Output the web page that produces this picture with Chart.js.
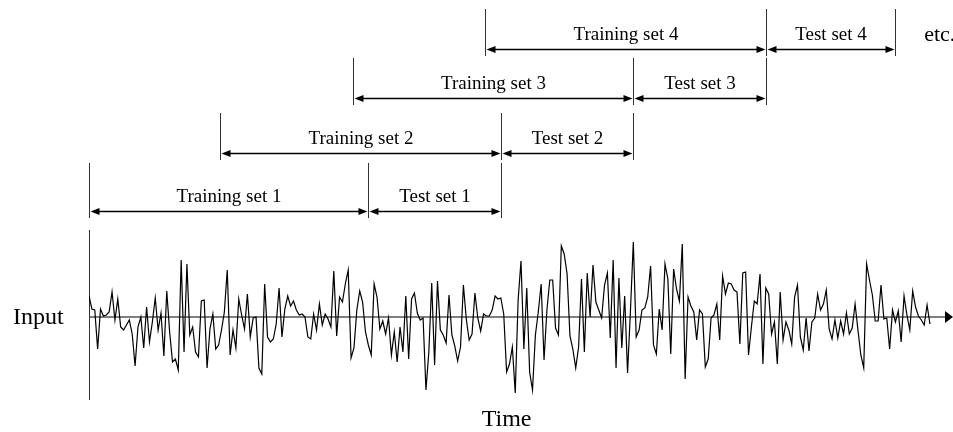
<!DOCTYPE html>
<html>
<head>
<meta charset="utf-8">
<script src="https://cdn.jsdelivr.net/npm/chart.js@4.4.1/dist/chart.umd.min.js"></script>
<style>
  html, body { margin: 0; padding: 0; background: #fff; }
  #wrap { width: 953px; height: 432px; }
</style>
</head>
<body>
<div id="wrap"><canvas id="cvChart" width="953" height="432"></canvas></div>
<script>
// ── Data ──────────────────────────────────────────────────────
// input signal, one sample per time step (offset from the baseline)
const inputSignal = [
  21, 8, 7, -32, 8, 1, 2, 5, 25, -3, 18, -10, -13, -8, -3, -17, -49, -10, 0, -31,
  10, -25, -5, 19, -13, 4, -39, 26, -15, -45, -42, -53, 57, -35, 53, -18, -10, -35, -40, 16,
  17, -51, -12, 3, -32, -28, -13, 5, 47, -38,
  -13, -31, 18, 2, -12, 23, -20, -1, 0, -51, -57, 33, -20, -25, -22, -7, 29, -20, 8, 21,
  11, 16, 7, 2, 3, 0, -20, -22, 3, -13, 13, -8, 3, -2, -10, 46, -19, 20, 15, 33,
  47, -41, -31, 7, 26, 15, -15, -28,
  -38, 33, 20, -12, -4, -17, -1, -38, -15, -45, -10, -35, 21, -42, 18, 24, 4, -3, -1, -73,
  -35, 34, -48, 36, -13, -18, -26, 22, -18, -29, -44, -30, 32, -2, -23, -17, 24, -1, -14, 3,
  1, 1, 7, 21, 18, 19, 3, -55, -47,
  -30, -76, 17, 56, -32, 29, -55, -73, -18, 5, 33, -43, 7, 37, 37, -11, -18, 71, 63, 43,
  -19, -32, -51, -30, 38, -35, 44, 0, 52, 15, 7, -1, 32, 44, -21, 57, -51, 39, -31, 21,
  -56, 6, 75, -20, -13, 7, 9, 20,
  51, -28, -37, 8, -13, 53, 38, -37, 48, 28, 16, 73, -62, 20, 11, 5, -23, 7, 3, -50,
  -42, -1, 2, 13, -23, 41, 23, 34, 33, 27, 25, -27, 44, 45, -38, -10, 16, 13, 43, -47,
  29, 23, -17, -5, -47, 25, -23, -5, -13,
  -27, 20, 32, -20, -33, -1, -34, -5, -1, 23, 7, 13, 27, -12, -22, -3, -21, -4, -17, 4,
  -17, -11, 13, -13, -38, -51, 53, 37, 22, -4, -4, 32, -2, -1, -32, 7, -5, 6, -25, 21,
  2, -13, 26, 10, 1, -3, -8, 12, -7,
];

// sliding windows, in time steps
const trainStart  = [0, 45.5, 91.5, 137.5];
const splitPoint  = [97, 143, 189, 235];
const testEnd     = [143, 189, 235, 280];
const trainLabels = ['Training set 1', 'Training set 2', 'Training set 3', 'Training set 4'];
const testLabels  = ['Test set 1', 'Test set 2', 'Test set 3', 'Test set 4'];

// ── Layout ────────────────────────────────────────────────────
const SERIF     = '"Liberation Serif", "Times New Roman", serif';
const rowArrowY = [106, 164, 219, 268];   // arrow level of each row (y units)
const rowTopY   = [154, 204, 259, 308];   // top of the boundary ticks

// ── Helpers ───────────────────────────────────────────────────
const arrowHead = (ctx, px, py, dir, len, half) => {
  ctx.beginPath();
  ctx.moveTo(px, py);
  ctx.lineTo(px - dir * len, py - half);
  ctx.lineTo(px - dir * len, py + half);
  ctx.closePath();
  ctx.fill();
};

// ── Axes (drawn under the signal) ─────────────────────────────
const axesPlugin = {
  id: 'axesPlugin',
  beforeDatasetsDraw(chart) {
    const { ctx, scales: { x, y } } = chart;
    const x0 = x.getPixelForValue(0);
    const y0 = y.getPixelForValue(0);
    ctx.save();
    ctx.strokeStyle = '#555';
    ctx.fillStyle   = '#000';
    ctx.lineWidth   = 1.3;
    // time axis
    ctx.beginPath();
    ctx.moveTo(x0, y0);
    ctx.lineTo(x.right - 6, y0);
    ctx.stroke();
    arrowHead(ctx, x.right, y0, 1, 8, 6);
    // input axis
    ctx.strokeStyle = '#333';
    ctx.lineWidth   = 1;
    ctx.beginPath();
    ctx.moveTo(x0 + 0.5, y.getPixelForValue(87));
    ctx.lineTo(x0 + 0.5, y.getPixelForValue(-83));
    ctx.stroke();

    ctx.font         = '24px ' + SERIF;
    ctx.textBaseline = 'middle';
    ctx.textAlign    = 'left';
    ctx.fillText('Input', x.left - 76, y0 + 1);
    ctx.textAlign = 'center';
    ctx.fillText('Time', x.getPixelForValue(145), y.getPixelForValue(-103));
    ctx.restore();
  },
};

// ── Training / test windows ───────────────────────────────────
const windowsPlugin = {
  id: 'windowsPlugin',
  afterDatasetsDraw(chart) {
    const { ctx, scales: { x, y } } = chart;
    ctx.save();
    trainStart.forEach((start, r) => {
      const ay   = Math.round(y.getPixelForValue(rowArrowY[r])) + 0.5;
      const top  = y.getPixelForValue(rowTopY[r]);
      const bot  = y.getPixelForValue(rowArrowY[r] - 7);
      const xs   = [start, splitPoint[r], testEnd[r]].map(v => Math.round(x.getPixelForValue(v)) + 0.5);

      // boundary ticks
      ctx.strokeStyle = '#333';
      ctx.lineWidth   = 1;
      xs.forEach(px => {
        ctx.beginPath();
        ctx.moveTo(px, top);
        ctx.lineTo(px, bot);
        ctx.stroke();
      });

      // double arrows
      ctx.strokeStyle = '#000';
      ctx.fillStyle   = '#000';
      ctx.lineWidth   = 1.5;
      [[xs[0], xs[1]], [xs[1], xs[2]]].forEach(([a, b]) => {
        ctx.beginPath();
        ctx.moveTo(a + 6, ay);
        ctx.lineTo(b - 6, ay);
        ctx.stroke();
        arrowHead(ctx, a + 1, ay, -1, 9, 3.5);
        arrowHead(ctx, b - 1, ay, 1, 9, 3.5);
      });

      // labels
      ctx.font         = '19px ' + SERIF;
      ctx.textAlign    = 'center';
      ctx.textBaseline = 'alphabetic';
      const ly = y.getPixelForValue(rowArrowY[r] + 9);
      ctx.fillText(trainLabels[r], (xs[0] + xs[1]) / 2, ly);
      ctx.fillText(testLabels[r], (xs[1] + xs[2]) / 2, ly);
    });

    ctx.font         = '22px ' + SERIF;
    ctx.textAlign    = 'left';
    ctx.textBaseline = 'alphabetic';
    ctx.fillText('etc.', x.getPixelForValue(290), y.getPixelForValue(276));
    ctx.restore();
  },
};

// ── Chart ─────────────────────────────────────────────────────
new Chart(document.getElementById('cvChart'), {
  type: 'line',
  data: {
    datasets: [{
      label:       'Input',
      data:        inputSignal.map((v, i) => ({ x: i, y: v })),
      borderColor: '#000',
      borderWidth: 1.2,
      pointRadius: 0,
      tension:     0,
      fill:        false,
    }],
  },
  options: {
    responsive: false,
    animation:  false,
    layout:     { padding: { left: 89, right: 0, top: 0, bottom: 0 } },
    plugins: {
      legend:  { display: false },
      tooltip: { enabled: false },
    },
    scales: {
      x: { type: 'linear', min: 0, max: 300, display: false },
      y: { type: 'linear', min: -115, max: 317, display: false },
    },
  },
  plugins: [axesPlugin, windowsPlugin],
});
</script>
</body>
</html>
